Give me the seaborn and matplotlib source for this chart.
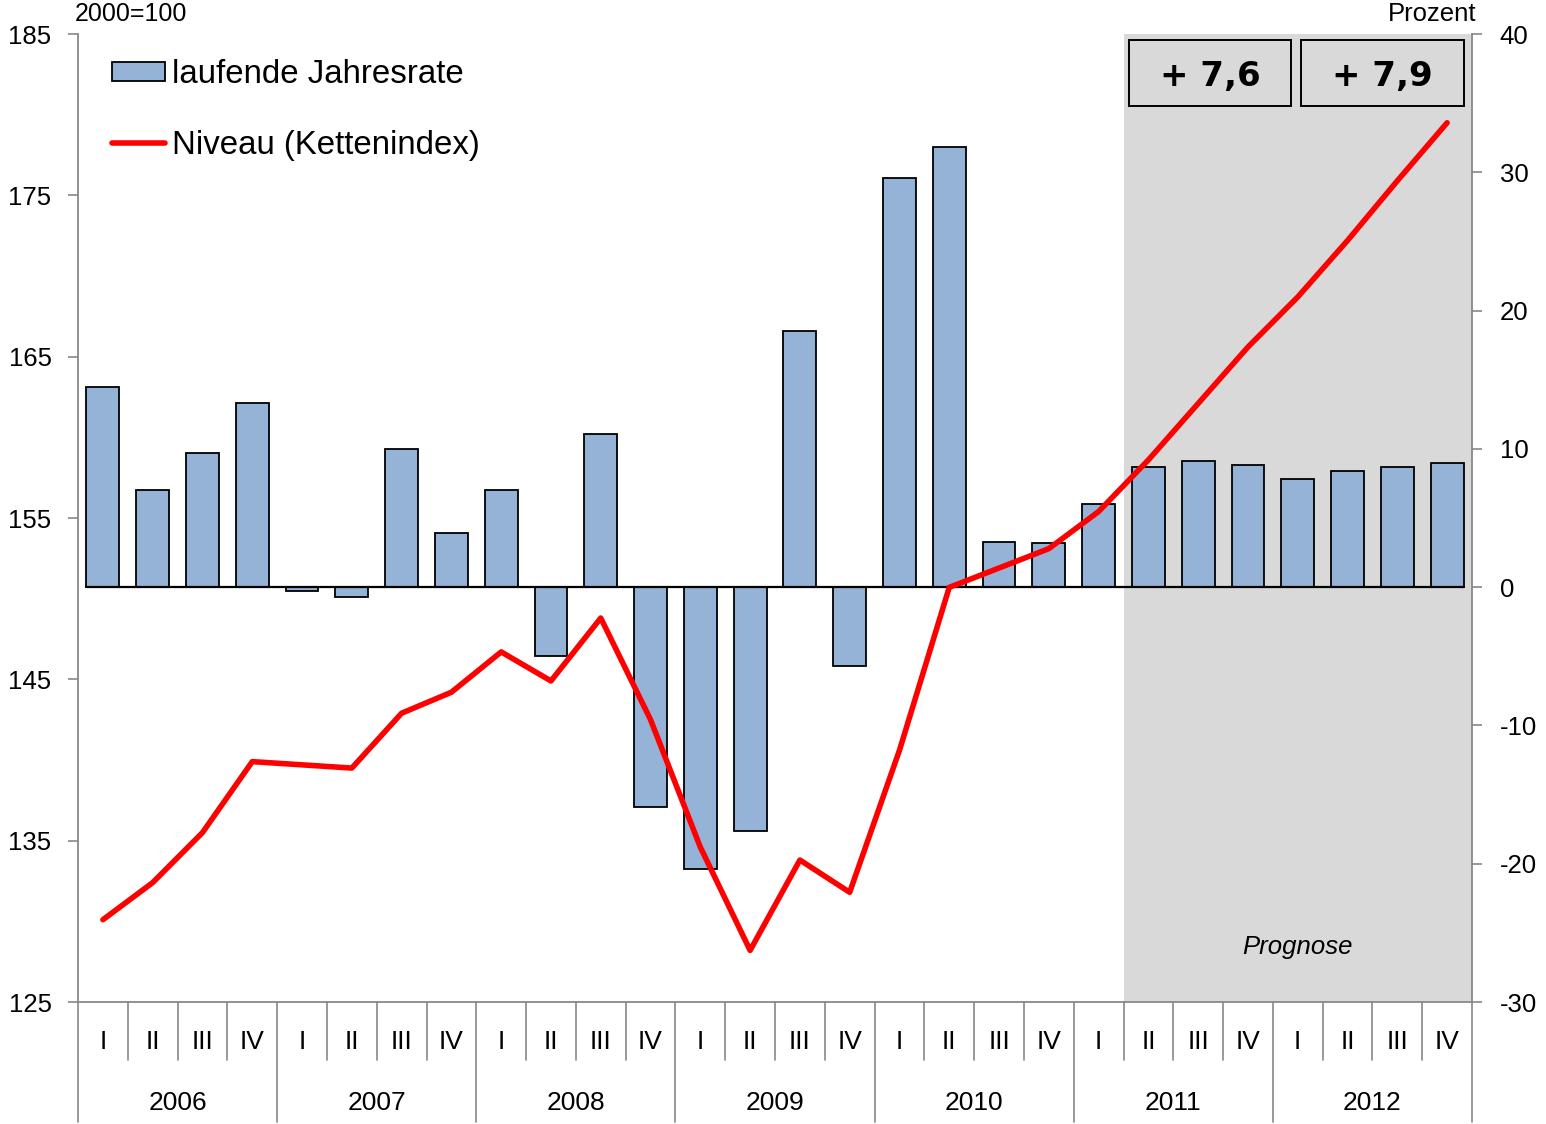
import matplotlib.pyplot as plt
import matplotlib.transforms as mtransforms
from matplotlib.patches import Patch, Rectangle
from matplotlib.lines import Line2D
import seaborn as sns
import numpy as np

# Daten
jahre = [2006, 2007, 2008, 2009, 2010, 2011, 2012]
quartale = ['I', 'II', 'III', 'IV']
perioden = [f"{j} {q}" for j in jahre for q in quartale]

# laufende Jahresrate in Prozent (rechte Achse)
jahresrate = [14.5, 7.0, 9.7, 13.3,
              -0.3, -0.7, 10.0, 3.9,
              7.0, -5.0, 11.1, -15.9,
              -20.4, -17.6, 18.5, -5.7,
              29.6, 31.8, 3.3, 3.2,
              6.0, 8.7, 9.1, 8.8,
              7.8, 8.4, 8.7, 9.0]

# Niveau (Kettenindex), 2000=100 (linke Achse)
niveau = [130.1, 132.4, 135.5, 139.9,
          139.7, 139.5, 142.9, 144.2,
          146.7, 144.9, 148.8, 142.5,
          134.6, 128.2, 133.8, 131.8,
          140.6, 150.7, 151.9, 153.1,
          155.4, 158.6, 162.1, 165.6,
          168.7, 172.2, 175.9, 179.5]

jahreswerte = ['+ 7,6', '+ 7,9']
prognose_start = 21  # ab 2011 II

sns.set_theme(style="white")
plt.rcParams['font.family'] = ['Liberation Sans', 'DejaVu Sans']
plt.rcParams['axes.unicode_minus'] = False
plt.rcParams['text.color'] = 'black'

grau = '#888888'
W, H = 1546, 1124
fig = plt.figure(figsize=(W / 100, H / 100), dpi=100)
ax = fig.add_axes([78 / W, 1 - 1002 / H, (1472 - 78) / W, (1002 - 34) / H])
ax2 = ax.twinx()

# Prognose-Bereich
ax.axvspan(prognose_start - 0.5, len(perioden) - 0.5, color='#D9D9D9', zorder=0, lw=0)

# Balken: laufende Jahresrate (rechte Achse)
sns.barplot(x=perioden, y=jahresrate, ax=ax, color='#95B3D7', saturation=1,
            edgecolor='black', linewidth=1.3, width=0.66, zorder=2)
ax.axhline(0, xmin=0.0059, xmax=0.9941, color='black', lw=1.6, zorder=3)
ax.set_ylim(-30, 40)
ax.set_xlim(-0.5, len(perioden) - 0.5)
ax.set_yticks(range(-30, 41, 10))
ax.set_xticks([])
ax.set_xlabel('')
ax.yaxis.tick_right()
ax.tick_params(axis='y', which='both', right=True, left=False, labelright=True,
               labelleft=False, length=7, width=1.2, color=grau,
               labelcolor='black', labelsize=18.5, pad=13)

# Linie: Niveau (linke Achse)
sns.lineplot(x=np.arange(len(perioden)), y=niveau, ax=ax2, color='#FF0000',
             linewidth=4.0, zorder=4)
ax2.set_ylim(125, 185)
ax2.set_yticks(range(125, 186, 10))
ax2.yaxis.tick_left()
ax2.tick_params(axis='y', which='both', left=True, right=False, labelleft=True,
                labelright=False, length=7, width=1.2, color=grau,
                labelcolor='black', labelsize=18.5, pad=12)
ax2.set_xlim(-0.5, len(perioden) - 0.5)
ax2.set_ylabel('')

for s in ax2.spines.values():
    s.set_visible(False)
ax.spines['top'].set_visible(False)
for s in ['left', 'right', 'bottom']:
    ax.spines[s].set_color(grau)
    ax.spines[s].set_linewidth(1.3)

# Kategorienachse mit Quartalen und Jahren
trans = mtransforms.blended_transform_factory(ax.transData, ax.transAxes)
for i in range(len(perioden) + 1):
    unten = -0.124 if i % 4 == 0 else -0.06
    ax.plot([i - 0.5, i - 0.5], [0, unten], transform=trans, color=grau, lw=1.2,
            clip_on=False)
for i, p in enumerate(perioden):
    ax.text(i, -0.0413, p.split()[1], transform=trans, ha='center', va='center',
            fontsize=19)
for j, jahr in enumerate(jahre):
    ax.text(4 * j + 1.5, -0.104, str(jahr), transform=trans, ha='center',
            va='center', fontsize=19)

# Kästen mit Jahreswerten
kaesten = [(20.61, 23.86), (24.07, 27.34)]
for (x0, x1), txt in zip(kaesten, jahreswerte):
    ax2.add_patch(Rectangle((x0, 0.9256), x1 - x0, 0.0682, transform=trans,
                            facecolor='#D9D9D9', edgecolor='black', lw=1.4,
                            zorder=5, clip_on=False))
    ax2.text((x0 + x1) / 2, 0.956, txt, transform=trans, ha='center', va='center',
             fontsize=24.5, fontweight='bold', family='DejaVu Sans', zorder=6)

ax2.text(24, 0.0568, 'Prognose', transform=trans, ha='center', va='center',
         fontsize=18.5, style='italic', zorder=6)

# Achsenbeschriftungen oben
fig.text(75 / W, 1 - 14 / H, '2000=100', ha='left', va='center', fontsize=18)
fig.text(1476 / W, 1 - 14 / H, 'Prozent', ha='right', va='center', fontsize=18.5)

# Legende
handles = [Patch(facecolor='#95B3D7', edgecolor='black', lw=1.3),
           Line2D([0], [0], color='#FF0000', lw=4.0)]
fig.legend(handles, ['laufende Jahresrate', 'Niveau (Kettenindex)'],
           loc='upper left', bbox_to_anchor=(112 / W, 1 - 59 / H),
           bbox_transform=fig.transFigure, frameon=False, fontsize=23.8,
           handlelength=1.6, handleheight=0.5, handletextpad=0.2,
           labelspacing=1.2, borderpad=0, borderaxespad=0)

fig.savefig('out.png', dpi=100)
